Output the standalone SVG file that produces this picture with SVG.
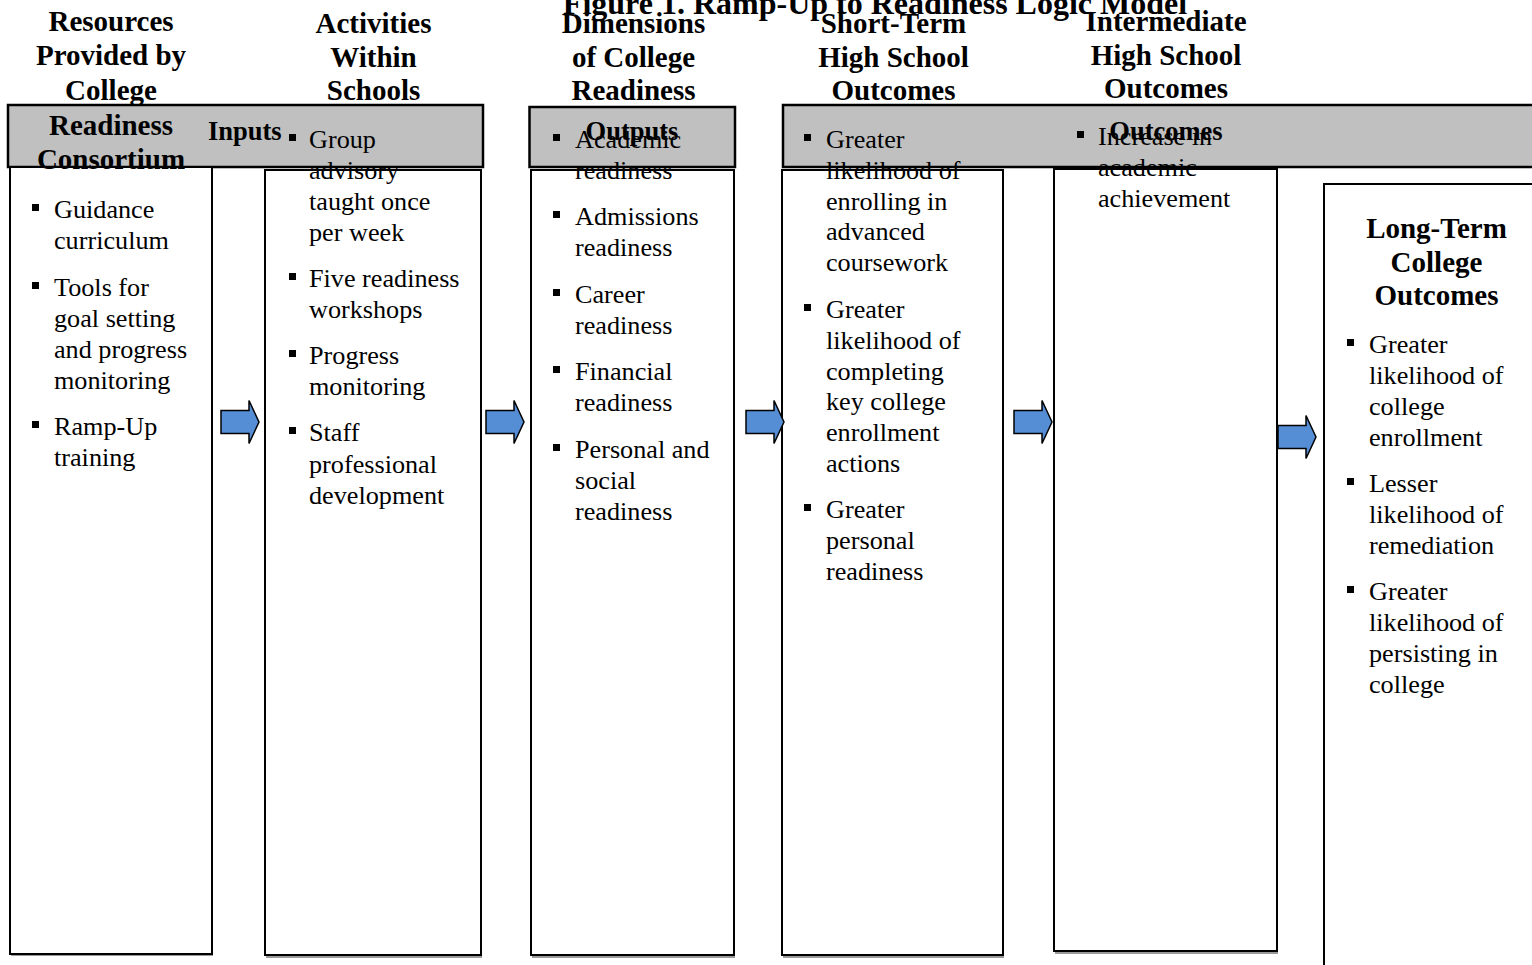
<svg xmlns="http://www.w3.org/2000/svg" width="1532" height="965" viewBox="0 0 1532 965">
<style>
.bar{fill:#c0c0c0;stroke:#000;stroke-width:2.5}
.box{fill:#fff;stroke:#000;stroke-width:2}
.sh{fill:#9a9a9a}
.hd{font-family:"Liberation Serif","Times New Roman",serif;font-weight:bold;font-size:29px;text-anchor:middle;fill:#000}
.lb{font-family:"Liberation Serif","Times New Roman",serif;font-weight:bold;font-size:26.5px;fill:#000}
.tt{font-family:"Liberation Serif","Times New Roman",serif;font-weight:bold;font-size:32px;text-anchor:middle;fill:#000}
.bt{font-family:"Liberation Serif","Times New Roman",serif;font-size:26.2px;fill:#000}
.arr{fill:#558ed5;stroke:#000;stroke-width:1.5;stroke-linejoin:miter}
</style>
<defs>
<path id="ar" class="arr" d="M0,-11.5 H28 V-21.5 L38,0 L28,21.5 V11.5 H0 Z"/>
<rect id="b" width="7" height="7"/>
</defs>
<rect width="1532" height="965" fill="#fff"/>

<g id="bars">
<rect class="bar" x="8" y="105" width="475" height="62"/>
<rect class="bar" x="529.5" y="107" width="205.5" height="60"/>
<rect class="bar" x="783" y="105" width="760" height="62"/>
</g>

<g id="title">
<text class="tt" x="875" y="14">Figure 1. Ramp-Up to Readiness Logic Model</text>
</g>

<g id="node-resources">
<rect class="sh" x="11" y="953" width="202" height="3"/>
<rect class="box" x="10" y="167" width="202" height="787"/>
<text class="hd" x="111" y="31">Resources</text>
<text class="hd" x="111" y="65">Provided by</text>
<text class="hd" x="111" y="100">College</text>
<text class="hd" x="111" y="135">Readiness</text>
<text class="hd" x="111" y="169">Consortium</text>
<use href="#b" x="32" y="204"/><text class="bt" x="54" y="218">Guidance</text>
<text class="bt" x="54" y="249">curriculum</text>
<use href="#b" x="32" y="282"/><text class="bt" x="54" y="296">Tools for</text>
<text class="bt" x="54" y="327">goal setting</text>
<text class="bt" x="54" y="358">and progress</text>
<text class="bt" x="54" y="389">monitoring</text>
<use href="#b" x="32" y="421"/><text class="bt" x="54" y="435">Ramp-Up</text>
<text class="bt" x="54" y="466">training</text>
</g>

<g id="node-activities">
<rect class="sh" x="266" y="955" width="216" height="3"/>
<rect class="box" x="265" y="170" width="216" height="785"/>
<text class="hd" x="373.5" y="33">Activities</text>
<text class="hd" x="373.5" y="67">Within</text>
<text class="hd" x="373.5" y="100">Schools</text>
<text class="lb" x="208" y="140">Inputs</text>
<use href="#b" x="289" y="134"/><text class="bt" x="309" y="148">Group</text>
<text class="bt" x="309" y="179">advisory</text>
<text class="bt" x="309" y="210">taught once</text>
<text class="bt" x="309" y="241">per week</text>
<use href="#b" x="289" y="273"/><text class="bt" x="309" y="287">Five readiness</text>
<text class="bt" x="309" y="318">workshops</text>
<use href="#b" x="289" y="350"/><text class="bt" x="309" y="364">Progress</text>
<text class="bt" x="309" y="395">monitoring</text>
<use href="#b" x="289" y="427"/><text class="bt" x="309" y="441">Staff</text>
<text class="bt" x="309" y="473">professional</text>
<text class="bt" x="309" y="504">development</text>
</g>

<g id="node-dimensions">
<rect class="sh" x="532" y="955" width="203" height="3"/>
<rect class="box" x="531" y="170" width="203" height="785"/>
<text class="hd" x="633.5" y="33">Dimensions</text>
<text class="hd" x="633.5" y="67">of College</text>
<text class="hd" x="633.5" y="100">Readiness</text>
<text class="lb" x="632" y="140" text-anchor="middle">Outputs</text>
<use href="#b" x="553" y="134"/><text class="bt" x="575" y="148">Academic</text>
<text class="bt" x="575" y="179">readiness</text>
<use href="#b" x="553" y="211"/><text class="bt" x="575" y="225">Admissions</text>
<text class="bt" x="575" y="256">readiness</text>
<use href="#b" x="553" y="289"/><text class="bt" x="575" y="303">Career</text>
<text class="bt" x="575" y="334">readiness</text>
<use href="#b" x="553" y="366"/><text class="bt" x="575" y="380">Financial</text>
<text class="bt" x="575" y="411">readiness</text>
<use href="#b" x="553" y="444"/><text class="bt" x="575" y="458">Personal and</text>
<text class="bt" x="575" y="489">social</text>
<text class="bt" x="575" y="520">readiness</text>
</g>

<g id="node-short-term">
<rect class="sh" x="783" y="955" width="221" height="3"/>
<rect class="box" x="782" y="170" width="221" height="785"/>
<text class="hd" x="893.5" y="33">Short-Term</text>
<text class="hd" x="893.5" y="67">High School</text>
<text class="hd" x="893.5" y="100">Outcomes</text>
<use href="#b" x="804" y="134"/><text class="bt" x="826" y="148">Greater</text>
<text class="bt" x="826" y="179">likelihood of</text>
<text class="bt" x="826" y="210">enrolling in</text>
<text class="bt" x="826" y="240">advanced</text>
<text class="bt" x="826" y="271">coursework</text>
<use href="#b" x="804" y="304"/><text class="bt" x="826" y="318">Greater</text>
<text class="bt" x="826" y="349">likelihood of</text>
<text class="bt" x="826" y="380">completing</text>
<text class="bt" x="826" y="410">key college</text>
<text class="bt" x="826" y="441">enrollment</text>
<text class="bt" x="826" y="472">actions</text>
<use href="#b" x="804" y="504"/><text class="bt" x="826" y="518">Greater</text>
<text class="bt" x="826" y="549">personal</text>
<text class="bt" x="826" y="580">readiness</text>
</g>

<g id="node-intermediate">
<rect class="sh" x="1055" y="951" width="223" height="3"/>
<rect class="box" x="1054" y="169" width="223" height="782"/>
<text class="hd" x="1166" y="31">Intermediate</text>
<text class="hd" x="1166" y="64.5">High School</text>
<text class="hd" x="1166" y="98">Outcomes</text>
<text class="lb" x="1166" y="140" text-anchor="middle">Outcomes</text>
<use href="#b" x="1077" y="131"/><text class="bt" x="1098" y="145">Increase in</text>
<text class="bt" x="1098" y="176">academic</text>
<text class="bt" x="1098" y="207">achievement</text>
</g>

<g id="node-long-term">
<rect class="box" x="1324" y="184" width="220" height="800"/>
<text class="hd" x="1436.5" y="238">Long-Term</text>
<text class="hd" x="1436.5" y="272">College</text>
<text class="hd" x="1436.5" y="305">Outcomes</text>
<use href="#b" x="1347" y="339"/><text class="bt" x="1369" y="353">Greater</text>
<text class="bt" x="1369" y="384">likelihood of</text>
<text class="bt" x="1369" y="415">college</text>
<text class="bt" x="1369" y="446">enrollment</text>
<use href="#b" x="1347" y="478"/><text class="bt" x="1369" y="492">Lesser</text>
<text class="bt" x="1369" y="523">likelihood of</text>
<text class="bt" x="1369" y="554">remediation</text>
<use href="#b" x="1347" y="586"/><text class="bt" x="1369" y="600">Greater</text>
<text class="bt" x="1369" y="631">likelihood of</text>
<text class="bt" x="1369" y="662">persisting in</text>
<text class="bt" x="1369" y="693">college</text>
</g>

<g id="connectors">
<use href="#ar" x="221" y="422"/>
<use href="#ar" x="486" y="422"/>
<use href="#ar" x="746" y="422"/>
<use href="#ar" x="1014" y="422"/>
<use href="#ar" x="1278" y="437"/>
</g>
</svg>
